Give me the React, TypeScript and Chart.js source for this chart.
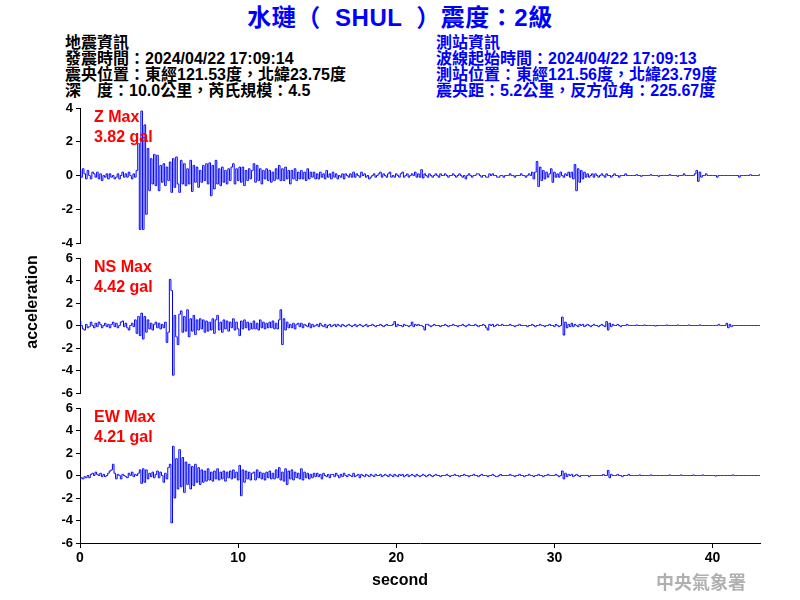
import React, { useEffect, useRef } from "react";
import { Chart, registerables } from "chart.js";

Chart.register(...registerables);

// ---- data ----
const SAMPLE_STEP = 0.1; // seconds between samples
const X_MAX = 43;
const X_TICK_STEP = 10;
const Y_TICK_STEP = 2;
const Z_RANGE = 4;
const NS_RANGE = 6;
const EW_RANGE = 6;

const Z_VALUES = [
  0.3,-0.1,0.4,0.1,-0.2,0.3,0.0,-0.2,0.2,0.1,
  -0.1,0.2,-0.2,0.1,-0.3,0.0,-0.1,0.1,-0.2,0.1,
  -0.1,0.0,-0.2,-0.1,0.1,-0.2,0.0,0.2,-0.1,0.1,
  -0.1,0.2,0.0,-0.2,0.1,-0.1,0.3,1.9,-3.2,3.82,
  -3.2,3.0,-2.3,1.6,-0.9,1.0,-0.5,1.25,-0.6,1.2,
  -0.9,0.6,-0.4,0.7,-0.6,0.5,-0.3,0.8,-1.0,1.0,
  -0.7,1.1,-0.5,-1.0,0.9,-0.5,0.7,-0.6,0.4,-0.5,
  0.9,-0.95,0.6,-0.4,0.5,-0.7,0.3,-0.4,0.6,-0.3,
  0.7,-0.5,0.75,-1.2,0.6,-0.8,0.9,-0.5,0.4,-0.6,
  0.5,-0.4,0.3,-0.5,0.4,-0.3,0.5,0.7,-0.5,0.4,
  -0.3,0.5,-0.4,0.5,-0.6,0.3,-0.3,0.4,-0.2,0.3,
  0.7,-0.4,0.6,-0.3,0.4,-0.5,0.3,-0.2,0.4,-0.3,
  0.3,-0.4,0.2,-0.3,0.4,-0.2,0.6,-0.3,0.4,-0.3,
  0.5,-0.2,0.3,-0.5,0.3,-0.2,0.4,-0.3,0.2,-0.2,
  0.3,-0.2,0.2,-0.3,0.4,-0.2,0.2,-0.1,0.2,-0.2,
  0.1,-0.2,0.2,-0.1,0.1,-0.2,0.3,-0.1,0.1,-0.2,
  0.2,-0.1,0.1,-0.2,0.0,-0.1,0.1,-0.2,0.1,0.0,
  -0.1,0.1,-0.1,0.2,-0.1,0.1,0.0,-0.1,0.2,0.0,
  0.1,-0.1,0.0,-0.2,-0.1,0.0,0.1,-0.1,0.0,0.1,
  0.2,-0.1,0.1,0.0,-0.1,0.1,0.2,-0.1,0.0,-0.1,
  0.1,0.0,-0.1,0.1,0.2,-0.1,0.0,0.1,-0.1,0.0,
  0.1,0.0,0.2,-0.1,0.1,-0.1,0.35,-0.15,0.1,0.0,
  -0.1,0.1,0.0,-0.1,0.0,0.1,0.0,-0.1,0.1,0.0,
  0.0,0.1,0.0,-0.1,0.0,0.0,0.1,0.0,-0.1,0.0,
  0.1,0.0,-0.1,0.0,-0.2,0.0,0.1,0.0,-0.1,0.0,
  0.0,0.1,0.1,0.0,-0.1,0.0,0.0,-0.1,-0.1,0.1,
  0.0,0.1,0.0,0.0,-0.1,-0.1,0.0,0.0,-0.1,0.0,
  0.0,0.0,0.1,0.0,0.0,-0.1,0.0,0.0,0.0,0.1,
  0.0,0.0,-0.1,0.0,0.1,0.0,0.2,-0.2,0.2,0.83,
  -0.65,0.5,-0.3,0.3,-0.2,0.2,-0.1,0.1,0.4,-0.4,
  0.2,-0.1,0.1,-0.1,0.2,0.0,-0.1,0.1,0.0,0.2,
  -0.1,0.2,-0.2,0.65,-0.9,0.4,-0.4,0.3,-0.2,0.2,
  -0.1,0.1,-0.1,0.0,0.1,-0.1,0.1,0.0,-0.1,0.0,
  0.1,0.0,-0.1,0.1,0.0,0.0,-0.1,0.0,0.1,0.0,
  0.0,-0.1,0.0,0.0,0.0,0.1,0.0,0.0,0.0,0.0,
  0.0,0.0,0.05,0.0,0.0,-0.05,0.0,0.0,0.0,0.0,
  0.0,0.05,0.0,0.0,0.0,0.0,-0.05,0.0,0.0,0.0,
  0.0,0.0,0.0,0.05,0.0,0.0,0.0,0.0,-0.05,0.0,
  0.0,0.0,0.1,0.0,0.0,0.0,0.0,0.0,0.0,0.1,
  0.3,-0.35,0.2,-0.1,0.0,0.0,0.1,0.0,0.0,0.0,
  0.0,0.0,0.0,-0.1,0.0,0.0,0.0,0.0,0.0,0.0,
  0.0,0.0,0.0,0.0,0.0,0.0,0.0,-0.1,0.0,0.0,
  0.0,0.0,0.0,0.0,0.05,0.0,0.0,0.0,0.0,0.0,
  0.05,
];

const NS_VALUES = [
  0.4,0.0,-0.3,-0.4,0.1,-0.2,-0.1,0.3,0.0,-0.2,
  0.2,-0.1,0.3,0.1,-0.2,0.0,0.2,-0.1,0.1,-0.2,
  0.1,0.3,-0.1,0.2,-0.2,0.0,0.3,0.4,-0.1,0.2,
  -0.2,-0.4,0.0,0.2,-0.1,0.5,-0.7,0.8,-0.9,1.1,
  -1.2,0.8,-0.6,0.5,-0.3,0.2,-0.4,0.1,0.3,-0.2,
  0.2,-0.3,0.1,-0.2,0.3,-1.5,-0.6,4.1,3.1,-4.42,
  0.9,-1.0,-1.7,1.0,1.3,-0.6,0.8,-0.5,1.4,-1.0,
  0.6,-0.5,0.9,-0.8,0.5,-0.4,0.6,-0.3,0.5,-0.6,
  0.4,-0.5,0.3,-0.4,0.6,-0.7,0.5,0.9,-0.4,0.3,
  -0.6,0.5,-0.3,0.4,-0.5,0.3,-0.2,0.6,-0.4,0.3,
  -0.3,-0.9,0.4,-0.3,0.5,-0.2,0.3,-0.4,0.2,-0.3,
  0.4,-0.3,0.2,-0.4,0.5,-0.2,0.3,-0.3,0.2,-0.2,
  0.3,-0.2,0.4,-0.3,0.2,-0.3,0.5,1.4,-1.7,0.6,
  -0.4,0.3,-0.2,0.1,-0.2,0.2,-0.3,0.1,0.2,-0.1,
  0.2,-0.2,0.1,0.0,-0.1,0.2,-0.2,0.1,-0.1,0.0,
  0.1,-0.1,0.2,0.0,-0.1,0.1,-0.2,0.0,0.1,-0.1,
  0.0,0.1,-0.1,0.1,0.0,-0.1,0.1,0.0,-0.1,0.0,
  0.1,0.0,-0.1,0.0,0.1,-0.1,0.0,0.1,0.0,-0.1,
  0.0,0.1,-0.1,0.0,0.0,0.1,0.0,-0.1,0.0,0.0,
  0.1,0.0,-0.1,0.0,0.1,0.0,0.0,0.0,0.1,0.35,
  -0.1,0.1,0.0,0.0,-0.1,0.1,0.0,0.0,-0.1,0.0,
  0.3,-0.1,0.1,0.0,0.1,0.0,0.0,-0.1,-0.4,0.1,
  0.1,0.0,-0.1,0.0,0.1,0.0,0.0,0.0,-0.1,0.0,
  0.0,0.1,0.0,-0.1,0.0,0.0,0.1,0.0,0.0,-0.1,
  0.0,0.0,0.1,0.0,-0.1,0.0,0.1,0.0,0.0,0.0,
  0.1,0.0,-0.1,0.0,0.0,0.1,0.0,-0.2,-0.4,0.1,
  0.0,0.1,-0.1,0.0,0.1,0.0,0.0,0.1,0.0,0.0,
  0.0,0.0,0.1,0.0,0.0,-0.1,0.0,0.0,0.1,0.0,
  0.0,0.0,0.0,-0.1,0.0,0.0,0.1,0.0,-0.1,0.0,
  0.0,0.1,0.0,0.0,-0.1,0.0,0.0,0.1,0.0,0.0,
  -0.1,0.1,0.0,-0.1,0.0,0.75,-0.85,0.3,-0.2,0.1,
  -0.1,0.2,-0.1,0.1,0.0,-0.1,0.1,0.0,0.1,-0.1,
  0.0,0.1,0.0,-0.1,0.0,0.1,0.0,0.0,-0.1,0.0,
  0.1,0.0,-0.1,0.35,-0.4,0.2,-0.1,0.1,0.0,0.0,
  0.1,0.0,-0.1,0.0,0.0,0.0,0.1,0.0,0.0,0.0,
  0.0,0.0,0.05,0.0,0.0,0.0,0.0,0.05,0.0,0.0,
  0.0,0.0,0.0,0.0,-0.05,0.0,0.0,0.0,0.0,0.0,
  0.0,0.05,0.0,0.0,0.0,0.0,0.0,0.0,0.05,0.0,
  0.0,0.0,0.0,0.0,0.0,0.05,0.0,0.0,0.0,0.0,
  0.0,0.0,0.05,0.0,0.0,0.0,0.0,0.0,0.0,0.0,
  0.0,0.0,0.0,0.0,0.1,0.0,0.0,0.0,0.0,0.2,
  -0.2,0.1,-0.1,0.0,0.0,0.0,0.0,0.0,0.0,0.0,
  0.0,0.0,0.0,0.0,0.0,0.0,0.0,0.0,0.0,0.0,
  0.0,
];

const EW_VALUES = [
  -0.3,-0.2,-0.3,-0.1,-0.2,0.0,-0.2,0.1,0.2,0.0,
  0.3,0.1,0.0,0.2,-0.1,0.1,-0.1,0.0,0.2,0.4,
  0.5,1.0,0.2,-0.3,0.1,0.0,-0.3,0.1,0.0,-0.1,
  -0.2,0.2,0.0,0.3,-0.1,0.1,0.0,0.2,0.5,-0.7,
  0.6,-0.6,0.5,-0.3,0.2,-0.1,0.3,-0.2,0.1,0.4,
  -0.2,0.3,0.0,-0.6,0.2,-0.3,0.7,1.0,-4.21,2.6,
  -2.0,1.5,-1.2,2.3,-1.0,1.6,-1.5,1.2,-0.8,1.0,
  -1.2,0.8,-0.9,1.0,-0.6,0.7,-0.8,0.5,-0.6,0.4,
  -0.5,0.6,-0.4,0.3,-0.5,0.4,-0.3,0.6,-0.4,0.3,
  -0.3,0.4,-0.5,0.3,-0.2,0.4,-0.3,0.5,-0.2,0.3,
  -0.4,0.9,-1.8,0.5,-0.6,0.4,-0.3,0.3,-0.4,0.2,
  0.3,-0.4,0.5,-0.2,0.3,-0.3,0.2,-0.4,0.3,-0.2,
  0.4,-0.3,0.2,-0.3,0.5,-0.2,0.7,-0.4,0.3,-0.5,
  0.6,-0.8,0.4,-0.3,0.5,-0.4,0.3,-0.2,0.2,-0.3,
  0.6,-0.4,0.3,-0.2,0.2,-0.3,0.1,-0.2,0.2,-0.1,
  0.2,-0.1,0.1,-0.3,0.2,0.0,-0.1,0.1,-0.2,0.1,
  0.1,-0.1,0.2,0.0,-0.2,0.1,-0.1,0.2,0.0,-0.1,
  0.1,0.0,-0.1,0.2,-0.1,0.0,0.1,-0.2,0.1,0.0,
  -0.1,0.1,0.0,-0.1,0.1,0.0,-0.1,0.1,0.0,0.0,
  0.1,-0.1,0.0,0.1,0.0,-0.1,0.1,0.0,-0.1,0.1,
  0.0,-0.1,0.1,0.0,0.1,-0.1,0.0,0.1,-0.1,0.0,
  0.1,0.0,-0.1,0.1,0.0,-0.1,0.0,0.1,0.0,-0.1,
  0.0,0.1,0.0,-0.1,0.0,0.1,0.0,0.0,-0.1,0.0,
  0.0,0.0,0.1,0.0,-0.1,0.0,0.0,0.1,0.0,0.0,
  -0.1,0.0,0.0,0.1,0.0,0.0,-0.1,0.0,0.0,0.1,
  0.0,0.0,-0.1,0.0,0.1,0.0,0.0,0.0,-0.1,0.0,
  0.0,0.1,0.0,-0.1,-0.1,0.0,0.1,0.0,0.0,0.0,
  0.0,0.0,0.1,0.0,0.0,-0.1,0.0,0.0,0.1,0.0,
  0.0,-0.1,0.0,0.0,0.1,0.0,0.0,-0.1,0.0,0.0,
  0.1,0.0,0.0,-0.1,0.0,0.0,0.1,0.0,0.0,0.0,
  0.0,0.1,0.0,-0.1,0.0,0.4,-0.3,0.2,-0.1,0.1,
  0.0,0.1,-0.1,0.0,0.1,0.0,-0.1,0.0,0.0,0.0,
  0.0,0.0,-0.1,0.0,0.0,0.0,0.0,0.0,0.0,0.0,
  0.0,0.1,0.0,0.0,0.45,-0.2,0.1,0.0,0.0,0.0,
  0.1,0.0,0.0,-0.1,0.0,0.0,0.0,0.1,0.0,0.0,
  0.0,0.0,0.0,0.0,0.05,0.0,0.0,0.0,0.0,0.0,
  0.0,0.05,0.0,0.0,0.0,0.0,0.0,0.0,0.0,0.0,
  0.0,0.0,0.0,0.05,0.0,0.0,0.0,0.0,0.0,0.0,
  0.05,0.0,0.0,0.0,0.0,0.0,0.0,0.0,0.05,0.0,
  0.0,0.0,0.0,0.0,0.05,0.0,0.0,0.0,0.0,0.0,
  0.0,0.0,-0.05,0.0,0.0,0.0,0.0,0.0,0.0,0.0,
  0.0,0.0,0.0,0.05,0.0,0.0,0.0,0.0,0.0,0.0,
  0.0,0.0,0.0,0.0,0.0,0.0,0.0,0.0,0.0,0.0,
  0.0,
];

const TITLE = "水璉（  SHUL  ）震度：2級";
const QUAKE_INFO = [
  "地震資訊",
  "發震時間：2024/04/22 17:09:14",
  "震央位置：東經121.53度，北緯23.75度",
  "深　度：10.0公里，芮氏規模：4.5",
];
const STATION_INFO = [
  "測站資訊",
  "波線起始時間：2024/04/22 17:09:13",
  "測站位置：東經121.56度，北緯23.79度",
  "震央距：5.2公里，反方位角：225.67度",
];
const PANEL_LABELS = [
  ["Z Max", "3.82 gal"],
  ["NS Max", "4.42 gal"],
  ["EW Max", "4.21 gal"],
];

const LATIN = '"Liberation Sans", Arial, "Noto Sans CJK TC", sans-serif';

type PanelProps = {
  top: number;
  height: number;
  padTop: number;
  padBottom: number;
  values: number[];
  range: number;
  showX: boolean;
};

function Panel({ top, height, padTop, padBottom, values, range, showX }: PanelProps) {
  const ref = useRef<HTMLCanvasElement | null>(null);
  useEffect(() => {
    if (!ref.current) return;
    const points = values.map((v, i) => ({ x: Math.round(i * SAMPLE_STEP * 10) / 10, y: v }));
    const chart = new Chart(ref.current, {
      type: "line",
      data: {
        datasets: [
          {
            data: points,
            borderColor: "#0000ff",
            borderWidth: 1,
            pointRadius: 0,
            tension: 0,
            stepped: "middle",
            fill: false,
          },
        ],
      },
      options: {
        animation: false,
        responsive: false,
        maintainAspectRatio: false,
        layout: { padding: { left: 0, right: 40, top: padTop, bottom: padBottom } },
        plugins: { legend: { display: false }, tooltip: { enabled: false } },
        scales: {
          x: {
            type: "linear",
            min: 0,
            max: X_MAX,
            display: showX,
            afterFit: (s: any) => {
              if (showX) s.height = 25;
            },
            afterBuildTicks: (s: any) => {
              s.ticks = s.ticks.filter((t: any) => t.value % X_TICK_STEP === 0);
            },
            border: { display: true, color: "#000", width: 1 },
            grid: { drawOnChartArea: false, drawTicks: true, tickLength: 5, color: "#000" },
            ticks: {
              stepSize: X_TICK_STEP,
              autoSkip: false,
              color: "#000",
              padding: 2,
              maxRotation: 0,
              font: { family: LATIN, size: 14, weight: "bold" },
            },
          },
          y: {
            min: -range,
            max: range,
            afterFit: (s: any) => {
              s.width = 80;
            },
            border: { display: true, color: "#000", width: 1 },
            grid: { drawOnChartArea: false, drawTicks: true, tickLength: 4, color: "#000" },
            ticks: {
              stepSize: Y_TICK_STEP,
              autoSkip: false,
              color: "#000",
              padding: 3,
              font: { family: LATIN, size: 13, weight: "bold" },
            },
          },
        },
      },
    } as any);
    return () => chart.destroy();
  }, [values, range, showX, padTop, padBottom]);
  return (
    <canvas
      ref={ref}
      width={800}
      height={height}
      style={{ position: "absolute", left: 0, top, width: 800, height }}
    />
  );
}

export default function App() {
  const labelTops = [107, 257, 407];
  return (
    <div
      style={{
        position: "fixed",
        left: 0,
        top: 0,
        width: 800,
        height: 600,
        background: "#fff",
        fontFamily: LATIN,
        overflow: "hidden",
      }}
    >
      <div
        style={{
          position: "absolute",
          left: 0,
          top: 5,
          width: 800,
          textAlign: "center",
          fontSize: 24,
          lineHeight: "26px",
          letterSpacing: "0.5px",
          fontWeight: "bold",
          color: "#0000ff",
          whiteSpace: "pre",
        }}
      >
        {TITLE}
      </div>
      <div
        style={{
          position: "absolute",
          left: 65,
          top: 35,
          fontSize: 16,
          lineHeight: "16px",
          fontWeight: "bold",
          color: "#000",
          whiteSpace: "pre",
        }}
      >
        {QUAKE_INFO.map((t) => (
          <div key={t}>{t}</div>
        ))}
      </div>
      <div
        style={{
          position: "absolute",
          left: 436,
          top: 35,
          fontSize: 16,
          lineHeight: "16px",
          fontWeight: "bold",
          color: "#0000ff",
          whiteSpace: "pre",
        }}
      >
        {STATION_INFO.map((t) => (
          <div key={t}>{t}</div>
        ))}
      </div>

      <Panel top={90} height={170} padTop={18} padBottom={17} values={Z_VALUES} range={Z_RANGE} showX={false} />
      <Panel top={240} height={170} padTop={18} padBottom={17} values={NS_VALUES} range={NS_RANGE} showX={false} />
      <Panel top={390} height={210} padTop={18} padBottom={32} values={EW_VALUES} range={EW_RANGE} showX={true} />

      {PANEL_LABELS.map((lines, i) => (
        <div
          key={lines[0]}
          style={{
            position: "absolute",
            left: 94,
            top: labelTops[i],
            fontSize: 16,
            lineHeight: "20px",
            fontWeight: "bold",
            color: "#ff0000",
            whiteSpace: "pre",
          }}
        >
          <div>{lines[0]}</div>
          <div>{lines[1]}</div>
        </div>
      ))}

      <div
        style={{
          position: "absolute",
          left: -68,
          top: 292,
          width: 200,
          height: 20,
          lineHeight: "20px",
          textAlign: "center",
          fontSize: 16,
          fontWeight: "bold",
          color: "#000",
          transform: "rotate(-90deg)",
        }}
      >
        acceleration
      </div>
      <div
        style={{
          position: "absolute",
          left: 300,
          top: 570,
          width: 200,
          lineHeight: "20px",
          textAlign: "center",
          fontSize: 16,
          fontWeight: "bold",
          color: "#000",
        }}
      >
        second
      </div>
      <div
        style={{
          position: "absolute",
          left: 656,
          top: 570,
          lineHeight: "22px",
          fontSize: 18,
          fontFamily: '"Noto Sans CJK TC", sans-serif',
          fontWeight: "bold",
          color: "#b0b0b0",
          whiteSpace: "pre",
        }}
      >
        中央氣象署
      </div>
    </div>
  );
}
